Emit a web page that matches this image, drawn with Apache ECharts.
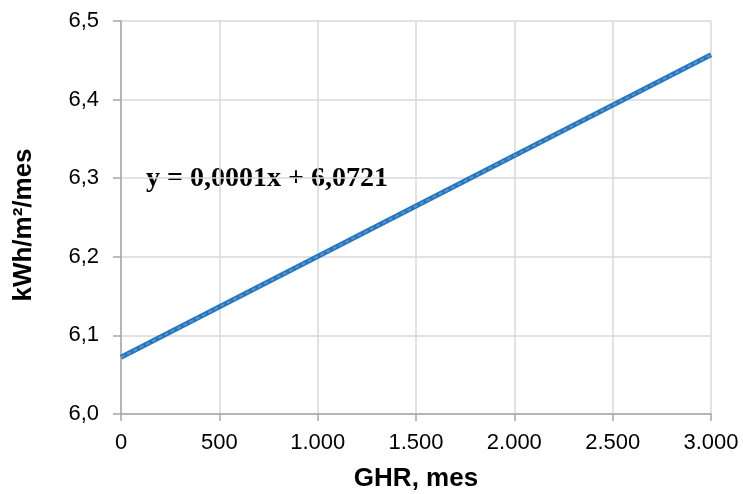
<!DOCTYPE html>
<html><head><meta charset="utf-8">
<script src="https://cdn.jsdelivr.net/npm/echarts@6/dist/echarts.min.js"></script>
<style>html,body{margin:0;padding:0;background:#fff}#c{width:743px;height:494px}</style>
</head><body><div id="c"></div>
<script>
const xValues = [0, 3000];
const yValues = [6.0721, 6.457];
const xTicks = [0, 500, 1000, 1500, 2000, 2500, 3000];
const yTicks = [6.0, 6.1, 6.2, 6.3, 6.4, 6.5];
const equation = 'y = 0,0001x + 6,0721';
const xTitle = 'GHR, mes';
const yTitle = 'kWh/m²/mes';

const pts = xValues.map((x, i) => [x, yValues[i]]);
const chart = echarts.init(document.getElementById('c'));
chart.setOption({
  animation: false,
  grid: {left: 121, right: 32, top: 21, bottom: 80, containLabel: false, outerBoundsMode: 'none'},
  xAxis: {
    type: 'value', min: xTicks[0], max: xTicks[xTicks.length - 1], interval: xTicks[1] - xTicks[0],
    name: xTitle, nameLocation: 'middle', nameGap: 52,
    nameTextStyle: {fontFamily: 'Liberation Sans', fontWeight: 'bold', fontSize: 26, color: '#000'},
    axisLine: {show: true, lineStyle: {color: '#a6a6a6', width: 1.5}},
    axisTick: {show: true, length: 7, lineStyle: {color: '#a6a6a6', width: 1.5}},
    axisLabel: {fontFamily: 'Liberation Sans', fontSize: 22, color: '#000', margin: 18,
      formatter: v => v.toLocaleString('de-DE')},
    splitLine: {show: true, lineStyle: {color: '#d9d9d9', width: 1.5}}
  },
  yAxis: {
    type: 'value', min: yTicks[0], max: yTicks[yTicks.length - 1], interval: 0.1,
    axisLine: {show: true, lineStyle: {color: '#a6a6a6', width: 1.5}},
    axisTick: {show: true, length: 8, lineStyle: {color: '#a6a6a6', width: 1.5}},
    axisLabel: {fontFamily: 'Liberation Sans', fontSize: 22, color: '#000', margin: 22,
      formatter: v => v.toFixed(1).replace('.', ',')},
    splitLine: {show: true, lineStyle: {color: '#d9d9d9', width: 1.5}}
  },
  series: [
    {type: 'line', data: pts, symbol: 'none', lineStyle: {color: '#1f77c8', width: 5}, z: 2},
    {type: 'line', data: pts, symbol: 'none', lineStyle: {color: '#6e8fae', width: 2, type: [4, 3]}, z: 3}
  ],
  graphic: [{
    type: 'text', left: 146, top: 165,
    style: {text: equation, fontSize: 28, fontWeight: 'bold', fontFamily: 'Liberation Serif', fill: '#000'}
  }, {
    type: 'text', x: 24, y: 225, rotation: Math.PI / 2,
    style: {text: yTitle, fontSize: 26, fontWeight: 'bold', fontFamily: 'Liberation Sans', fill: '#000', align: 'center', verticalAlign: 'middle'}
  }]
});
</script></body></html>
